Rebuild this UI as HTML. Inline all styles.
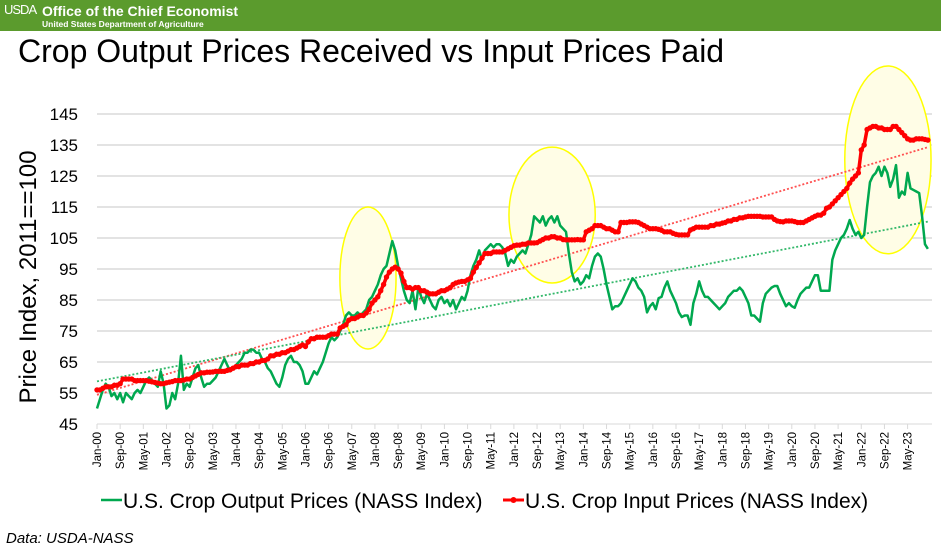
<!DOCTYPE html>
<html><head><meta charset="utf-8"><style>
html,body{margin:0;padding:0;background:#fff;}
#wrap{position:relative;width:941px;height:552px;overflow:hidden;font-family:"Liberation Sans",sans-serif;background:#fff;}
#hdr{position:absolute;left:0;top:0;width:941px;height:31px;background:#5b9b2d;}
#hdr .logo{position:absolute;left:4px;top:2px;color:#fff;font-size:13px;letter-spacing:-1px;}
#hdr .t1{position:absolute;left:42px;top:3px;color:#fff;font-weight:bold;font-size:14px;}
#hdr .t2{position:absolute;left:42px;top:19px;color:#fff;font-weight:bold;font-size:8.5px;}
#title{position:absolute;left:18px;top:33px;font-size:32px;color:#000;font-family:"Liberation Sans",sans-serif;}
#src{position:absolute;left:6px;top:530px;font-style:italic;font-size:15px;font-family:"Liberation Sans",sans-serif;}
svg{position:absolute;left:0;top:0;}
</style></head><body>
<div id="wrap">
<div id="hdr">
<span class="logo">USDA</span>
<span class="t1">Office of the Chief Economist</span>
<span class="t2">United States Department of Agriculture</span>
</div>
<div id="title">Crop Output Prices Received vs Input Prices Paid</div>
<svg id="chart" width="941" height="552"></svg>
<div id="src">Data: USDA-NASS</div>
</div>
<script>
const yTicks=[45,55,65,75,85,95,105,115,125,135,145];
const monthNames=["Jan","Feb","Mar","Apr","May","Jun","Jul","Aug","Sep","Oct","Nov","Dec"];
const outputPrices=[
50,53,56,58,57,54,55,53,55,52,55,54,
53,55,56,55,57,59,60,59,58,57,62,58,
50,51,55,53,58,67,56,58,57,60,63,64,
60,57,58,58,59,60,62,64,66,64,62,63,
64,65,66,68,68,69,69,68,68,66,65,63,
62,60,58,57,60,64,66,67,65,65,64,62,
58,58,60,62,61,63,65,68,71,73,72,73,
75,77,80,81,80,80,81,80,81,82,85,86,
88,90,93,95,96,100,104,101,96,92,88,85,
84,88,82,89,86,84,87,85,83,82,85,86,
84,85,83,85,82,84,86,85,88,93,96,98,
101,98,101,102,103,102,103,103,102,100,96,98,
97,99,100,101,100,103,106,112,111,110,112,109,
111,112,110,112,109,108,107,100,94,91,92,90,
91,93,92,96,99,100,99,95,90,86,82,83,
83,84,86,88,90,92,91,89,88,86,81,83,
84,82,85.6,86,89,91,88,86,84,81,79.5,80,
80,77,84,87,91,88,86,86,85,84,83,82,
83,84,86,87,88,88,89,88,86,84,80,80,
79,78,84,87,88,89,89.5,89.5,87,85,83,84,
83,82.5,85,87,88,89,89,91,93,93,88,88,
88,88,98,101,103,105,106,108,110.8,108,106,107,
105,106,115,123,125,126,128,125,128,126,121.5,124,
128.5,118,120,119,126,121,120.5,120,119.5,112,103,101.5];
const inputPrices=[
56,56,56.5,57,57,57,57.5,57.5,58,59.5,59.5,59.5,
59.5,59,59,59,59,59,58.8,58.6,58.4,58.2,58,58,
58.3,58.5,58.7,59,59,59,59.2,59.5,59.5,60,60.5,61,
61.5,61.5,61.7,61.7,61.8,62,62,62,62,62.3,62.5,63,
63.5,63.5,64,64,64,64.5,64.5,65,65,65.5,65.5,66,
67,67,67.5,67.5,68,68,68.5,69,69,69.5,70,70.5,
70,71.5,72.5,72.5,73,73,73,73,73.5,74,74,74,
76,76.5,77,78.5,79,79,79.5,80,80,80.8,82,84,
85,86,88,90,92.4,94,95,95.6,95,93.7,91,89,
89,88.5,89,89,88,88,87.5,87,87,87,87.5,88,
88,88.5,89,90,90.5,90.8,91,91,91.5,92,94,95.5,
97,98.5,100,100,100,100.5,100.5,100.5,100.5,101,101.5,102,
102.5,102.7,102.7,103,103,103.4,103.4,103.4,103.5,104,104.5,105,
105,105.4,105.4,105,105,104.5,104.4,104.4,104.4,104.4,104.5,104.4,
104.4,107,107.5,108,109,109,109,108.5,108,108,107.5,107,
107,110,110,110,110.2,110.2,110.2,110,109.5,109,108.5,108,
108,108,107.8,107.5,107,107,107,106.5,106.2,106,106,106,
106,107.6,108,108.5,108.5,108.5,108.5,108.5,109,109,109.5,109.5,
109.8,110,110.5,110.5,111,111,111.5,111.5,111.8,112,112,112,
112,112,111.8,111.8,111.8,111.8,111,110.5,110.3,110.2,110.5,110.5,
110.5,110.3,110,110,110,110.5,111,111.5,112,112.4,112.4,113,
114.6,115,116,117,118,119,120,121,122.7,124,125,126,
133.4,135,140,140.5,141,141,140.5,140.5,140,140,140,141,
141,140,139,138,137,136.6,136.6,137,137,137,136.8,136.6];
// highlight ellipses: center month, month radius, center value, value radius
const ellipseCenterMonth=[93.6,157.2,273.2];
const ellipseMonthRadius=[9.7,14.9,14.9];
const ellipseCenterValue=[92.1,112.4,130.2];
const ellipseValueRadius=[22.9,21.9,30.3];

const NS="http://www.w3.org/2000/svg";
const svg=document.getElementById('chart');
const X0=97,DX=2.895,YTOP=114,PXU=3.1;
function xs(i){return X0+i*DX;}
function ys(v){return YTOP+(145-v)*PXU;}
function mk(tag,attrs,parent){const e=document.createElementNS(NS,tag);for(const k in attrs)e.setAttribute(k,attrs[k]);(parent||svg).appendChild(e);return e;}

yTicks.forEach(t=>{
  if(t>45){const g=mk('line',{x1:X0,x2:932,y1:ys(t),y2:ys(t),stroke:'#e3e3e3','stroke-width':2});
  
  }
  const l=mk('text',{x:78,y:ys(t)+6,'text-anchor':'end','font-size':17,'font-family':'Liberation Sans, sans-serif'});
  l.textContent=t;
  
  
});
const ax=mk('line',{x1:X0,x2:932,y1:ys(45),y2:ys(45),stroke:'#d9d9d9','stroke-width':1});


for(let i=0;i<outputPrices.length;i+=8){
  const x=xs(i);
  const tk=mk('line',{x1:x,x2:x,y1:ys(45),y2:ys(45)+5,stroke:'#d9d9d9'});
  
  
  const yr=String(i/12|0).padStart(2,'0');
  const lab=monthNames[i%12]+'-'+yr;
  const t=mk('text',{transform:`translate(${x+4},${ys(45)+8}) rotate(-90)`,'text-anchor':'end','font-size':11.5,'font-family':'Liberation Sans, sans-serif'});
  t.textContent=lab;
  
  
}
ellipseCenterMonth.forEach((m,k)=>{
  const e=mk('ellipse',{cx:xs(m),cy:ys(ellipseCenterValue[k]),rx:ellipseMonthRadius[k]*DX,ry:ellipseValueRadius[k]*PXU,fill:'#fffde6',stroke:'#ffff00','stroke-width':1.5});
  
  
});
function trend(arr,color,name){
  const n=arr.length;let sx=0,sy=0,sxx=0,sxy=0;
  arr.forEach((v,i)=>{sx+=i;sy+=v;sxx+=i*i;sxy+=i*v;});
  const m=(n*sxy-sx*sy)/(n*sxx-sx*sx),b=(sy-m*sx)/n;
  const l=mk('line',{x1:xs(0),y1:ys(b),x2:xs(n-1),y2:ys(b+m*(n-1)),stroke:color,'stroke-width':1.8,'stroke-dasharray':'2 2'});
  
  
}
trend(inputPrices,'#ff5050','input-price-trendline');
trend(outputPrices,'#33b86a','output-price-trendline');
const gp=mk('polyline',{points:outputPrices.map((v,i)=>xs(i)+','+ys(v)).join(' '),fill:'none',stroke:'#00a84f','stroke-width':2.5,'stroke-linejoin':'round'});


const rp=mk('polyline',{points:inputPrices.map((v,i)=>xs(i)+','+ys(v)).join(' '),fill:'none',stroke:'#ff0000','stroke-width':3.5,'stroke-linejoin':'round'});


const mg=mk('g',{fill:'#ff0000'});


inputPrices.forEach((v,i)=>{mk('circle',{cx:xs(i),cy:ys(v),r:2.7},mg);});
const yt=mk('text',{transform:'translate(36,277) rotate(-90)','text-anchor':'middle','font-size':24,'font-family':'Liberation Sans, sans-serif'});
yt.textContent='Price Index, 2011==100';


const lg=mk('g',{});


const l1=mk('g',{},lg);


mk('line',{x1:101,x2:122,y1:500,y2:500,stroke:'#00a84f','stroke-width':2.5},l1);
const lt1=mk('text',{x:123,y:508,'font-size':21,'font-family':'Liberation Sans, sans-serif'},l1);lt1.textContent='U.S. Crop Output Prices (NASS Index)';
const l2=mk('g',{},lg);


mk('line',{x1:503,x2:524,y1:500,y2:500,stroke:'#ff0000','stroke-width':3},l2);
mk('circle',{cx:513.5,cy:500,r:3,fill:'#ff0000'},l2);
const lt2=mk('text',{x:525,y:508,'font-size':21,'font-family':'Liberation Sans, sans-serif'},l2);lt2.textContent='U.S. Crop Input Prices (NASS Index)';
</script>
</body></html>
